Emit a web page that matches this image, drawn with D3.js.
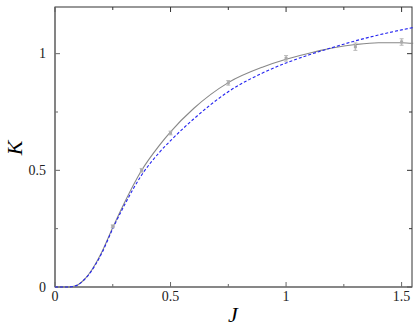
<!DOCTYPE html>
<html>
<head>
<meta charset="utf-8">
<script src="https://cdn.jsdelivr.net/npm/d3@7"></script>
<style>
  body { margin: 0; background: #fff; }
  text { font-family: "Liberation Serif", "DejaVu Serif", serif; }
</style>
</head>
<body>
<svg id="chart" width="415" height="332"></svg>
<script>
// data
const fitJ = [0, 0.05, 0.07, 0.1, 0.125, 0.15, 0.2, 0.25, 0.3, 0.375, 0.45, 0.5, 0.6, 0.75, 0.9, 1.0, 1.1, 1.15, 1.2, 1.3, 1.4, 1.5, 1.55];
const fitK = [0, 0, 0.001, 0.01, 0.03, 0.06, 0.145, 0.255, 0.36, 0.50, 0.605, 0.665, 0.765, 0.876, 0.943, 0.976, 1.002, 1.014, 1.024, 1.039, 1.047, 1.047, 1.044];
const theoryK = [0, 0, 0.001, 0.01, 0.03, 0.058, 0.14, 0.25, 0.35, 0.48, 0.575, 0.627, 0.72, 0.837, 0.918, 0.960, 0.995, 1.011, 1.026, 1.055, 1.08, 1.102, 1.112];
const pointJ = [0.25, 0.375, 0.5, 0.75, 1.0, 1.3, 1.5];
const pointK = [0.26, 0.50, 0.66, 0.875, 0.98, 1.03, 1.05];
const pointErr = [0.006, 0.008, 0.008, 0.01, 0.012, 0.016, 0.014];
const xTicks = [0, 0.5, 1, 1.5];
const yTicks = [0, 0.5, 1];

const svg = d3.select('#chart');
const margin = {top: 7, right: 3, bottom: 45, left: 55};
const width = +svg.attr('width') - margin.left - margin.right;
const height = +svg.attr('height') - margin.top - margin.bottom;

const g = svg.append('g')
    .attr('transform', `translate(${margin.left},${margin.top})`);

const x = d3.scaleLinear().domain([0, 1.545]).range([0, width]);
const y = d3.scaleLinear().domain([0, 1.2]).range([height, 0]);

const xMinor = [0.25, 0.75, 1.25];
const yMinor = [0.25, 0.75];

// frame
g.append('rect')
    .attr('width', width).attr('height', height)
    .attr('fill', 'none').attr('stroke', '#333').attr('stroke-width', 1);

// ticks (inward, on all four sides)
function ticks(vals, len) {
    vals.forEach(v => {
        g.append('line').attr('x1', x(v)).attr('x2', x(v)).attr('y1', height).attr('y2', height - len)
            .attr('stroke', '#666');
        g.append('line').attr('x1', x(v)).attr('x2', x(v)).attr('y1', 0).attr('y2', len)
            .attr('stroke', '#333');
    });
}
function yticks(vals, len) {
    vals.forEach(v => {
        g.append('line').attr('y1', y(v)).attr('y2', y(v)).attr('x1', 0).attr('x2', len)
            .attr('stroke', '#666');
        g.append('line').attr('y1', y(v)).attr('y2', y(v)).attr('x1', width).attr('x2', width - len)
            .attr('stroke', '#333');
    });
}
ticks(xTicks, 5); ticks(xMinor, 3);
yticks(yTicks, 5); yticks(yMinor, 3);

// left and bottom axis lines in gray
g.append('line').attr('x1', 0).attr('x2', 0).attr('y1', 0).attr('y2', height)
    .attr('stroke', '#777').attr('stroke-width', 1.2);
g.append('line').attr('x1', 0).attr('x2', width).attr('y1', height).attr('y2', height)
    .attr('stroke', '#777').attr('stroke-width', 1.2);

// tick labels
g.selectAll('.xl').data(xTicks).enter().append('text')
    .attr('x', d => x(d)).attr('y', height + 14)
    .attr('text-anchor', 'middle').attr('font-size', 14).attr('fill', '#222')
    .text(d => d3.format('~g')(d));
g.selectAll('.yl').data(yTicks).enter().append('text')
    .attr('x', -9).attr('y', d => y(d) + 4.5)
    .attr('text-anchor', 'end').attr('font-size', 14).attr('fill', '#222')
    .text(d => d3.format('~g')(d));

// axis labels
svg.append('text')
    .attr('x', 233).attr('y', 322)
    .attr('text-anchor', 'middle').attr('font-size', 22).attr('font-style', 'italic')
    .text('J');
svg.append('text')
    .attr('transform', 'translate(22,148) rotate(-90)')
    .attr('text-anchor', 'middle').attr('font-size', 22).attr('font-style', 'italic')
    .text('K');

const line = d3.line().curve(d3.curveMonotoneX)
    .x(d => x(d[0])).y(d => y(d[1]));

// gray fit
g.append('path')
    .datum(fitJ.map((j, i) => [j, fitK[i]]))
    .attr('d', line).attr('fill', 'none')
    .attr('stroke', '#888').attr('stroke-width', 1.1);

// blue dashed
g.append('path')
    .datum(fitJ.map((j, i) => [j, theoryK[i]]))
    .attr('d', line).attr('fill', 'none')
    .attr('stroke', '#2424f0').attr('stroke-width', 1.1)
    .attr('stroke-dasharray', '3,2');

// data points with error bars
const pts = g.selectAll('.pt').data(pointJ.map((j, i) => ({j, k: pointK[i], e: pointErr[i]})))
    .enter().append('g');
pts.append('line')
    .attr('x1', d => x(d.j)).attr('x2', d => x(d.j))
    .attr('y1', d => y(d.k - d.e)).attr('y2', d => y(d.k + d.e))
    .attr('stroke', '#bbb').attr('stroke-width', 1.5);
pts.append('line')
    .attr('x1', d => x(d.j) - 2).attr('x2', d => x(d.j) + 2)
    .attr('y1', d => y(d.k - d.e)).attr('y2', d => y(d.k - d.e))
    .attr('stroke', '#bbb');
pts.append('line')
    .attr('x1', d => x(d.j) - 2).attr('x2', d => x(d.j) + 2)
    .attr('y1', d => y(d.k + d.e)).attr('y2', d => y(d.k + d.e))
    .attr('stroke', '#bbb');
pts.append('rect')
    .attr('x', d => x(d.j) - 1.5).attr('y', d => y(d.k) - 1.5)
    .attr('width', 3).attr('height', 3).attr('fill', '#aaa');
</script>
</body>
</html>
